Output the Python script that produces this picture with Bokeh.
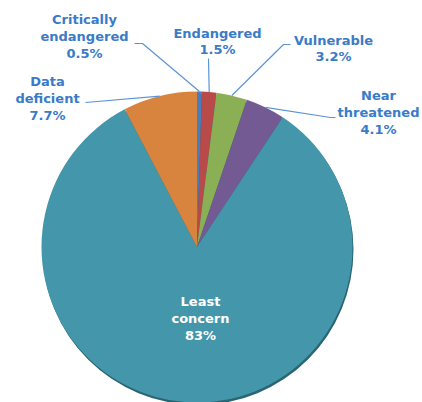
import math
from bokeh.plotting import figure
from bokeh.models import Range1d
from bokeh.core.properties import value
from bokeh.embed import file_html
from bokeh.resources import INLINE

# ---- data ----
categories = ["Critically\nendangered", "Endangered", "Vulnerable", "Near\nthreatened",
              "Least\nconcern", "Data\ndeficient"]
shares = [0.5, 1.5, 3.2, 4.1, 83, 7.7]
colors = ["#4a7ebb", "#b94a4a", "#8baf55", "#735a93", "#4496aa", "#d9843e"]

# label anchor positions (image pixels) and leader line start points
label_pos = [(84, 36), (217, 41), (333, 48), (378, 112), (200, 318), (47, 98)]
leader_start = [[(134, 43), (142, 43)], [(208, 58)], [(290, 44), (283, 44)],
                [(335, 117), (330, 117)], None, [(85, 102)]]
label_colors = ["#3a7bc8"] * 4 + ["#ffffff"] + ["#3a7bc8"]

W, H = 422, 402
def Y(img_y):
    return H - img_y

p = figure(width=W, height=H, output_backend="svg", toolbar_location=None,
           x_range=Range1d(0, W), y_range=Range1d(0, H), min_border=0)
p.axis.visible = False
p.grid.visible = False
p.outline_line_color = None
p.background_fill_color = "white"

cx, cy, r = 196.5, Y(246.5), 155.5

# shadow rim
p.circle(x=[cx + 1], y=[cy - 2.5], radius=r, fill_color="#2b6473", line_color=None)

total = sum(shares)
starts, ends, mids = [], [], []
cum = 0.0
for s in shares:
    a0 = math.pi / 2 - 2 * math.pi * cum / total
    cum += s
    a1 = math.pi / 2 - 2 * math.pi * cum / total
    starts.append(a0)
    ends.append(a1)
    mids.append((a0 + a1) / 2)

p.wedge(x=[cx] * len(shares), y=[cy] * len(shares), radius=r,
        start_angle=starts, end_angle=ends, direction="clock",
        fill_color=colors, line_color=None)

# leader lines
xs, ys = [], []
for i, st in enumerate(leader_start):
    if st is None:
        continue
    ex = cx + r * math.cos(mids[i])
    ey = cy + r * math.sin(mids[i])
    xs.append([q[0] for q in st] + [ex])
    ys.append([Y(q[1]) for q in st] + [ey])
p.multi_line(xs=xs, ys=ys, line_color="#5b94d6", line_width=1.2)

texts = [f"{c}\n{s:g}%" for c, s in zip(categories, shares)]
p.text(x=[q[0] for q in label_pos], y=[Y(q[1]) for q in label_pos], text=texts,
       text_align="center", text_baseline="middle",
       text_font=value("DejaVu Sans"), text_font_style="bold",
       text_font_size="13px", text_line_height=1.12, text_color=label_colors)

open("out.html", "w").write(file_html(p, INLINE))
